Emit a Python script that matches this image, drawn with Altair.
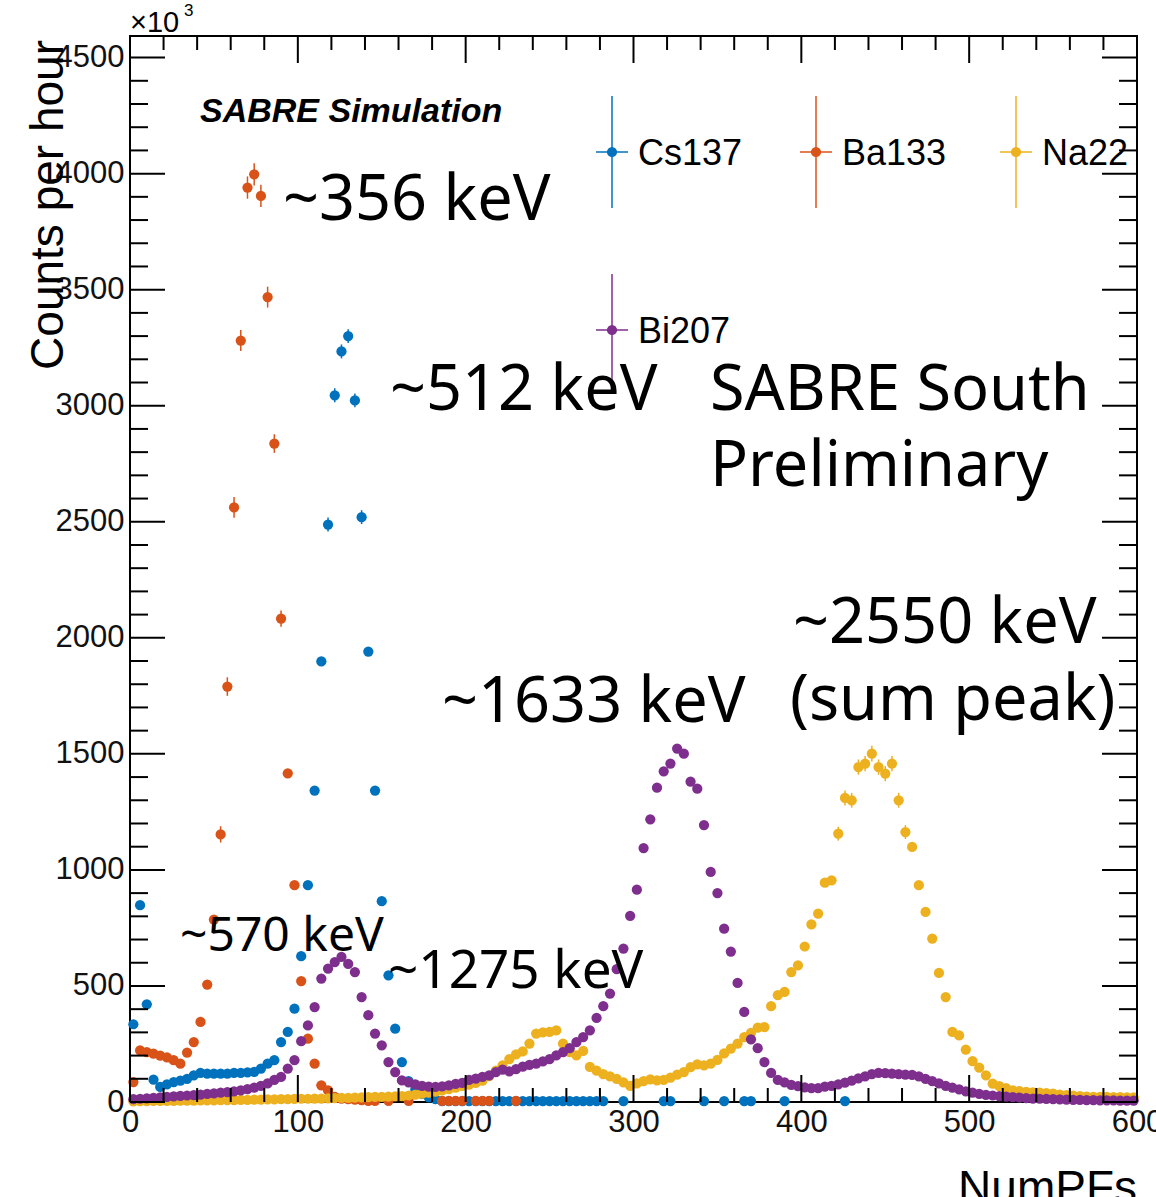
import altair as alt
import pandas as pd

N = None

# NumPEs bin centres (150 bins, width 4)
bin_centers = list(range(2, 600, 4))

cs137 = [
    335, 848, 421, 96, 65, 76, 86, 92, 100, 115,
    125, 122, 122, 122, 122, 125, 125, 128, 130, 144,
    165, 180, 258, 302, 402, 628, 934, 1342, 1898, 2488,
    3045, 3234, 3300, 3023, 2520, 1941, 1342, 865, 546, 316,
    172, 90, 55, 35, 20, 12, 4, 4, 4, 4,
    4, 4, 4, 4, 4, 4, 4, 4, 4, 4,
    4, 4, 4, 4, 4, 4, 4, 4, 4, 4,
    4, N, N, 4, N, N, N, N, N, 4,
    4, N, N, N, N, 4, N, N, 4, N,
    N, 4, 4, N, N, N, N, 4, N, N,
    N, N, N, N, N, N, 4, N, N, N,
    N, N, N, N, N, N, N, N, N, N,
    N, N, N, N, N, N, N, N, N, N,
    N, N, N, N, N, N, N, N, N, N,
    N, N, N, N, N, N, N, N, N, N,
]

ba133 = [
    86, 222, 215, 208, 200, 192, 180, 165, 213, 258,
    345, 506, 786, 1153, 1790, 2562, 3281, 3940, 3997, 3904,
    3468, 2837, 2083, 1416, 934, 521, 273, 165, 72, 50,
    22, 15, 12, 10, 8, 5, 5, N, 5, N,
    N, 5, N, N, N, N, 5, 5, 5, 5,
    N, 5, 5, 5, N, N, N, 5, N, N,
    N, N, N, N, N, N, N, N, N, N,
    N, N, N, N, N, N, N, N, N, N,
    N, N, N, N, N, N, N, N, N, N,
    N, N, N, N, N, N, N, N, N, N,
    N, N, N, N, N, N, N, N, N, N,
    N, N, N, N, N, N, N, N, N, N,
    N, N, N, N, N, N, N, N, N, N,
    N, N, N, N, N, N, N, N, N, N,
    N, N, N, N, N, N, N, N, N, N,
]

na22 = [
    3, 4, 4, 5, 5, 5, 5, 6, 6, 6,
    7, 7, 7, 8, 8, 8, 9, 9, 10, 10,
    11, 11, 12, 12, 13, 14, 14, 15, 15, 16,
    17, 18, 18, 19, 20, 21, 22, 22, 23, 24,
    25, 28, 32, 36, 40, 45, 50, 56, 62, 70,
    75, 82, 92, 112, 135, 158, 185, 205, 218, 252,
    295, 300, 302, 309, 252, 215, 201, 220, 151, 135,
    120, 110, 100, 85, 70, 80, 90, 97, 93, 95,
    105, 118, 129, 150, 162, 158, 165, 182, 209, 230,
    252, 280, 298, 320, 323, 413, 460, 474, 560, 589,
    670, 765, 812, 945, 955, 1156, 1310, 1300, 1443, 1458,
    1501, 1443, 1415, 1458, 1300, 1163, 1099, 934, 819, 704,
    556, 452, 302, 287, 226, 176, 148, 115, 79, 68,
    60, 50, 47, 44, 42, 40, 38, 36, 32, 30,
    28, 25, 23, 22, 22, 22, 21, 21, 20, 20,
]

bi207 = [
    12, 14, 16, 18, 20, 22, 24, 26, 28, 30,
    32, 35, 37, 40, 43, 46, 50, 55, 62, 70,
    80, 95, 108, 144, 180, 262, 330, 409, 532, 575,
    603, 625, 595, 560, 452, 374, 295, 244, 172, 129,
    93, 85, 76, 70, 66, 65, 67, 72, 78, 82,
    95, 101, 108, 115, 129, 140, 132, 142, 152, 160,
    165, 175, 185, 201, 215, 232, 258, 280, 309, 362,
    413, 467, 572, 661, 802, 915, 1094, 1218, 1354, 1425,
    1458, 1523, 1501, 1380, 1350, 1193, 991, 900, 747, 648,
    513, 388, 270, 232, 172, 125, 95, 85, 74, 68,
    63, 60, 60, 66, 70, 76, 84, 92, 102, 110,
    120, 126, 124, 122, 120, 118, 117, 110, 100, 90,
    80, 70, 62, 54, 46, 40, 35, 31, 28, 25,
    23, 21, 19, 17, 15, 14, 13, 12, 11, 10,
    9, 9, 8, 8, 7, 7, 7, 6, 6, 6,
]

# visible statistical error bars (bin index -> half-length)
cs137_err = {29: 30, 30: 30, 31: 30, 32: 30, 33: 30, 34: 30}
ba133_err = {13: 35, 14: 40, 15: 45, 16: 45, 17: 48, 18: 48, 19: 48, 20: 45, 21: 40, 22: 35}
na22_err = {105: 30, 106: 32, 107: 32, 108: 33, 109: 33, 110: 34, 111: 33,
            112: 33, 113: 33, 114: 32, 115: 30}

series_names = ["Cs137", "Ba133", "Na22", "Bi207"]
series_colors = ["#0072BD", "#D95319", "#EDB120", "#7E2F8E"]
series_values = [cs137, ba133, na22, bi207]
series_errors = [cs137_err, ba133_err, na22_err, {}]

x_major = [0, 100, 200, 300, 400, 500, 600]
x_minor = [v for v in range(20, 600, 20) if v % 100 != 0]
y_major = [0, 500, 1000, 1500, 2000, 2500, 3000, 3500, 4000, 4500]
y_minor = [v for v in range(100, 4600, 100) if v % 500 != 0]

rows = []
for order, (name, vals, errs) in enumerate(zip(series_names, series_values, series_errors)):
    for k, (xc, v) in enumerate(zip(bin_centers, vals)):
        if v is None:
            continue
        e = errs.get(k, 0)
        rows.append(dict(src=name, order=order, x=xc, y=v, lo=v - e, hi=v + e))
df = pd.DataFrame(rows)

W, H = 1007, 1066
xs = alt.Scale(domain=[0, 600], nice=False, zero=False)
ys = alt.Scale(domain=[0, 4593], nice=False, zero=False)
color = alt.Color("src:N", scale=alt.Scale(domain=series_names, range=series_colors), legend=None)

LAB = "Liberation Sans"
xaxis = alt.Axis(values=x_major, ticks=False, domain=False, grid=False, labelFont=LAB,
                 labelFontSize=31, labelColor="#111", labelPadding=5, labelFlush=False,
                 labelOverlap=False, title=None, format="d")
yaxis = alt.Axis(values=y_major, ticks=False, domain=False, grid=False, labelFont=LAB,
                 labelFontSize=31, labelColor="#111", labelPadding=6, labelFlush=False,
                 labelOverlap=False, title=None, format="d")

base = alt.Chart(df)
errbars = base.transform_filter("datum.hi > datum.lo").mark_rule(strokeWidth=1.5).encode(
    x=alt.X("x:Q", scale=xs, axis=xaxis),
    y=alt.Y("lo:Q", scale=ys, axis=yaxis),
    y2="hi:Q",
    color=color,
)
points = base.mark_circle(size=105, opacity=1).encode(
    x=alt.X("x:Q", scale=xs, axis=xaxis),
    y=alt.Y("y:Q", scale=ys, axis=yaxis),
    color=color,
    order=alt.Order("order:Q"),
)


def vticks(vals, y0, y1):
    return alt.Chart(pd.DataFrame({"v": vals})).mark_rule(color="black", strokeWidth=2).encode(
        x=alt.X("v:Q", scale=xs, axis=xaxis), y=alt.value(y0), y2=alt.value(y1))


def hticks(vals, x0, x1):
    return alt.Chart(pd.DataFrame({"v": vals})).mark_rule(color="black", strokeWidth=2).encode(
        y=alt.Y("v:Q", scale=ys, axis=yaxis), x=alt.value(x0), x2=alt.value(x1))


ticks = [
    vticks(x_major, H, H - 27), vticks(x_minor, H, H - 14),
    vticks(x_major, 0, 27), vticks(x_minor, 0, 14),
    hticks(y_major, 0, 35), hticks(y_minor, 0, 18),
    hticks(y_major, W, W - 35), hticks(y_minor, W, W - 18),
]


def label(text, x, y, size, font="Noto Sans", align="left", baseline="alphabetic", **kw):
    return alt.Chart(pd.DataFrame({"t": [text]})).mark_text(
        fontSize=size, font=font, align=align, baseline=baseline, color="black", **kw
    ).encode(x=alt.value(x), y=alt.value(y), text="t:N")


texts = [
    label("~356 keV", 153, 184, 63),
    label("~512 keV", 260, 374, 63),
    label("SABRE South", 580, 374, 63),
    label("Preliminary", 580, 450, 63),
    label("~2550 keV", 663, 607, 63),
    label("(sum peak)", 660, 684, 63),
    label("~1633 keV", 312, 686, 63),
    label("~570 keV", 50, 915, 48),
    label("~1275 keV", 258, 952, 53),
    label("SABRE Simulation", 70, 86, 34, font=LAB, fontWeight="bold", fontStyle="italic"),
    label("\u00d710", 0, -4, 29, font=LAB),
    label("3", 54, -20, 17, font=LAB),
    label("Counts per hour", -67, 4, 46, font=LAB, align="right", angle=270),
    label("NumPFs", W, 1167, 46, font=LAB, align="right"),
]

legend_layers = []
legend_pos = [(482, 116), (686, 116), (886, 116), (482, 294)]
for name, col, (cx, cy) in zip(series_names, series_colors, legend_pos):
    one = pd.DataFrame({"t": [name]})
    legend_layers += [
        alt.Chart(one).mark_rule(color=col, strokeWidth=1.5).encode(
            x=alt.value(cx), y=alt.value(cy - 56), y2=alt.value(cy + 56)),
        alt.Chart(one).mark_rule(color=col, strokeWidth=1.5).encode(
            x=alt.value(cx - 16), x2=alt.value(cx + 16), y=alt.value(cy)),
        alt.Chart(one).mark_circle(size=105, color=col, opacity=1).encode(
            x=alt.value(cx), y=alt.value(cy)),
        alt.Chart(one).mark_text(font=LAB, fontSize=36, align="left", baseline="middle",
                                 color="black").encode(
            x=alt.value(cx + 26), y=alt.value(cy + 2), text="t:N"),
    ]

chart = alt.layer(points, errbars, *ticks, *legend_layers, *texts).properties(
    width=W, height=H,
    autosize=alt.AutoSizeParams(type="none"),
    padding={"left": 130, "top": 36, "right": 19, "bottom": 95},
).configure_view(stroke="black", strokeWidth=2)

chart.save("out.html", embed_options={"renderer": "svg", "actions": False})
